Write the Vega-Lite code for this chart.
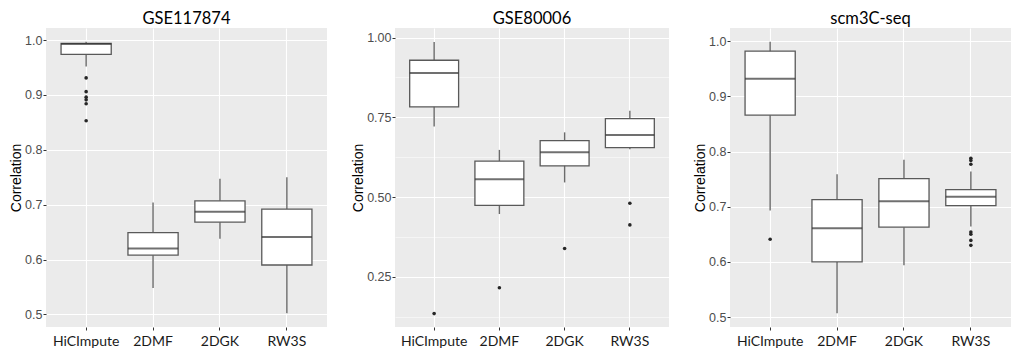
{
  "$schema": "https://vega.github.io/schema/vega-lite/v6.json",
  "background": "white",
  "padding": {"left": 9, "top": 10, "right": 0, "bottom": 0},
  "datasets": {
    "boxes": [
      {"panel": "GSE117874", "method": "HiCImpute", "lower": 0.952, "q1": 0.974, "median": 0.993, "q3": 0.994, "upper": 0.997},
      {"panel": "GSE117874", "method": "2DMF", "lower": 0.548, "q1": 0.608, "median": 0.620, "q3": 0.649, "upper": 0.704},
      {"panel": "GSE117874", "method": "2DGK", "lower": 0.638, "q1": 0.668, "median": 0.687, "q3": 0.707, "upper": 0.747},
      {"panel": "GSE117874", "method": "RW3S", "lower": 0.502, "q1": 0.590, "median": 0.641, "q3": 0.692, "upper": 0.750},
      {"panel": "GSE80006", "method": "HiCImpute", "lower": 0.721, "q1": 0.783, "median": 0.889, "q3": 0.929, "upper": 0.986},
      {"panel": "GSE80006", "method": "2DMF", "lower": 0.447, "q1": 0.474, "median": 0.556, "q3": 0.613, "upper": 0.648},
      {"panel": "GSE80006", "method": "2DGK", "lower": 0.546, "q1": 0.598, "median": 0.641, "q3": 0.677, "upper": 0.703},
      {"panel": "GSE80006", "method": "RW3S", "lower": 0.650, "q1": 0.655, "median": 0.695, "q3": 0.746, "upper": 0.771},
      {"panel": "scm3C-seq", "method": "HiCImpute", "lower": 0.693, "q1": 0.866, "median": 0.932, "q3": 0.982, "upper": 0.999},
      {"panel": "scm3C-seq", "method": "2DMF", "lower": 0.507, "q1": 0.600, "median": 0.661, "q3": 0.713, "upper": 0.759},
      {"panel": "scm3C-seq", "method": "2DGK", "lower": 0.594, "q1": 0.663, "median": 0.710, "q3": 0.751, "upper": 0.785},
      {"panel": "scm3C-seq", "method": "RW3S", "lower": 0.664, "q1": 0.702, "median": 0.718, "q3": 0.731, "upper": 0.764}
    ],
    "outliers": [
      {"panel": "GSE117874", "method": "HiCImpute", "value": 0.931},
      {"panel": "GSE117874", "method": "HiCImpute", "value": 0.906},
      {"panel": "GSE117874", "method": "HiCImpute", "value": 0.896},
      {"panel": "GSE117874", "method": "HiCImpute", "value": 0.891},
      {"panel": "GSE117874", "method": "HiCImpute", "value": 0.884},
      {"panel": "GSE117874", "method": "HiCImpute", "value": 0.853},
      {"panel": "GSE80006", "method": "HiCImpute", "value": 0.135},
      {"panel": "GSE80006", "method": "2DMF", "value": 0.216},
      {"panel": "GSE80006", "method": "2DGK", "value": 0.339},
      {"panel": "GSE80006", "method": "RW3S", "value": 0.481},
      {"panel": "GSE80006", "method": "RW3S", "value": 0.413},
      {"panel": "scm3C-seq", "method": "HiCImpute", "value": 0.641},
      {"panel": "scm3C-seq", "method": "RW3S", "value": 0.788},
      {"panel": "scm3C-seq", "method": "RW3S", "value": 0.784},
      {"panel": "scm3C-seq", "method": "RW3S", "value": 0.777},
      {"panel": "scm3C-seq", "method": "RW3S", "value": 0.654},
      {"panel": "scm3C-seq", "method": "RW3S", "value": 0.650},
      {"panel": "scm3C-seq", "method": "RW3S", "value": 0.639},
      {"panel": "scm3C-seq", "method": "RW3S", "value": 0.630}
    ]
  },
  "hconcat": [
    {
      "width": 281, "height": 299,
      "title": "GSE117874",
      "data": {"name": "boxes"},
      "transform": [{"filter": "datum.panel === 'GSE117874'"}],
      "layer": [
        {"mark": {"type": "rule", "color": "#6b6b6b", "strokeWidth": 1.4},
         "encoding": {
           "x": {"field": "method", "type": "nominal", "sort": ["HiCImpute", "2DMF", "2DGK", "RW3S"], "scale": {"paddingInner": 0.25, "paddingOuter": 0.225}, "axis": {"labelAngle": 0}},
           "y": {"field": "lower", "type": "quantitative", "title": "Correlation",
                 "scale": {"domain": [0.477, 1.022], "nice": false, "zero": false},
                 "axis": {"values": [0.5, 0.55, 0.6, 0.65, 0.7, 0.75, 0.8, 0.85, 0.9, 0.95, 1.0],
                          "labelExpr": "abs(datum.value*10 - round(datum.value*10)) > 0.001 ? '' : format(datum.value, '.1f')",
                          "gridWidth": {"condition": {"test": "abs(datum.value*10 - round(datum.value*10)) > 0.001", "value": 0.5}, "value": 1.1},
                          "tickOpacity": {"condition": {"test": "abs(datum.value*10 - round(datum.value*10)) > 0.001", "value": 0}, "value": 1}}},
           "y2": {"field": "upper"}}},
        {"mark": {"type": "bar", "fill": "white", "stroke": "#595959", "strokeWidth": 1.3},
         "encoding": {
           "x": {"field": "method", "type": "nominal", "sort": ["HiCImpute", "2DMF", "2DGK", "RW3S"]},
           "y": {"field": "q1", "type": "quantitative", "title": "Correlation"},
           "y2": {"field": "q3"}}},
        {"mark": {"type": "tick", "color": "#333333", "thickness": 2, "size": 50.2},
         "encoding": {
           "x": {"field": "method", "type": "nominal", "sort": ["HiCImpute", "2DMF", "2DGK", "RW3S"]},
           "y": {"field": "median", "type": "quantitative", "title": "Correlation"}}},
        {"data": {"name": "outliers"},
         "transform": [{"filter": "datum.panel === 'GSE117874'"}],
         "mark": {"type": "circle", "color": "#262626", "size": 13, "opacity": 1},
         "encoding": {
           "x": {"field": "method", "type": "nominal", "sort": ["HiCImpute", "2DMF", "2DGK", "RW3S"]},
           "y": {"field": "value", "type": "quantitative", "title": "Correlation"}}}
      ]
    },
    {
      "width": 274, "height": 299,
      "title": "GSE80006",
      "data": {"name": "boxes"},
      "transform": [{"filter": "datum.panel === 'GSE80006'"}],
      "layer": [
        {"mark": {"type": "rule", "color": "#6b6b6b", "strokeWidth": 1.4},
         "encoding": {
           "x": {"field": "method", "type": "nominal", "sort": ["HiCImpute", "2DMF", "2DGK", "RW3S"], "scale": {"paddingInner": 0.25, "paddingOuter": 0.225}, "axis": {"labelAngle": 0}},
           "y": {"field": "lower", "type": "quantitative", "title": "Correlation",
                 "scale": {"domain": [0.093, 1.030], "nice": false, "zero": false},
                 "axis": {"values": [0.125, 0.25, 0.375, 0.5, 0.625, 0.75, 0.875, 1.0],
                          "labelExpr": "abs(datum.value*4 - round(datum.value*4)) > 0.001 ? '' : format(datum.value, '.2f')",
                          "gridWidth": {"condition": {"test": "abs(datum.value*4 - round(datum.value*4)) > 0.001", "value": 0.5}, "value": 1.1},
                          "tickOpacity": {"condition": {"test": "abs(datum.value*4 - round(datum.value*4)) > 0.001", "value": 0}, "value": 1}}},
           "y2": {"field": "upper"}}},
        {"mark": {"type": "bar", "fill": "white", "stroke": "#595959", "strokeWidth": 1.3},
         "encoding": {
           "x": {"field": "method", "type": "nominal", "sort": ["HiCImpute", "2DMF", "2DGK", "RW3S"]},
           "y": {"field": "q1", "type": "quantitative", "title": "Correlation"},
           "y2": {"field": "q3"}}},
        {"mark": {"type": "tick", "color": "#333333", "thickness": 2, "size": 48.9},
         "encoding": {
           "x": {"field": "method", "type": "nominal", "sort": ["HiCImpute", "2DMF", "2DGK", "RW3S"]},
           "y": {"field": "median", "type": "quantitative", "title": "Correlation"}}},
        {"data": {"name": "outliers"},
         "transform": [{"filter": "datum.panel === 'GSE80006'"}],
         "mark": {"type": "circle", "color": "#262626", "size": 13, "opacity": 1},
         "encoding": {
           "x": {"field": "method", "type": "nominal", "sort": ["HiCImpute", "2DMF", "2DGK", "RW3S"]},
           "y": {"field": "value", "type": "quantitative", "title": "Correlation"}}}
      ]
    },
    {
      "width": 281, "height": 299,
      "title": "scm3C-seq",
      "data": {"name": "boxes"},
      "transform": [{"filter": "datum.panel === 'scm3C-seq'"}],
      "layer": [
        {"mark": {"type": "rule", "color": "#6b6b6b", "strokeWidth": 1.4},
         "encoding": {
           "x": {"field": "method", "type": "nominal", "sort": ["HiCImpute", "2DMF", "2DGK", "RW3S"], "scale": {"paddingInner": 0.25, "paddingOuter": 0.225}, "axis": {"labelAngle": 0}},
           "y": {"field": "lower", "type": "quantitative", "title": "Correlation",
                 "scale": {"domain": [0.482, 1.024], "nice": false, "zero": false},
                 "axis": {"values": [0.5, 0.55, 0.6, 0.65, 0.7, 0.75, 0.8, 0.85, 0.9, 0.95, 1.0],
                          "labelExpr": "abs(datum.value*10 - round(datum.value*10)) > 0.001 ? '' : format(datum.value, '.1f')",
                          "gridWidth": {"condition": {"test": "abs(datum.value*10 - round(datum.value*10)) > 0.001", "value": 0.5}, "value": 1.1},
                          "tickOpacity": {"condition": {"test": "abs(datum.value*10 - round(datum.value*10)) > 0.001", "value": 0}, "value": 1}}},
           "y2": {"field": "upper"}}},
        {"mark": {"type": "bar", "fill": "white", "stroke": "#595959", "strokeWidth": 1.3},
         "encoding": {
           "x": {"field": "method", "type": "nominal", "sort": ["HiCImpute", "2DMF", "2DGK", "RW3S"]},
           "y": {"field": "q1", "type": "quantitative", "title": "Correlation"},
           "y2": {"field": "q3"}}},
        {"mark": {"type": "tick", "color": "#333333", "thickness": 2, "size": 50.2},
         "encoding": {
           "x": {"field": "method", "type": "nominal", "sort": ["HiCImpute", "2DMF", "2DGK", "RW3S"]},
           "y": {"field": "median", "type": "quantitative", "title": "Correlation"}}},
        {"data": {"name": "outliers"},
         "transform": [{"filter": "datum.panel === 'scm3C-seq'"}],
         "mark": {"type": "circle", "color": "#262626", "size": 13, "opacity": 1},
         "encoding": {
           "x": {"field": "method", "type": "nominal", "sort": ["HiCImpute", "2DMF", "2DGK", "RW3S"]},
           "y": {"field": "value", "type": "quantitative", "title": "Correlation"}}}
      ]
    }
  ],
  "config": {
    "view": {"fill": "#EBEBEB", "stroke": null},
    "concat": {"spacing": 24},
    "axis": {"domain": false, "tickColor": "#333333", "tickSize": 3, "gridColor": "#FFFFFF", "labelColor": "#4D4D4D"},
    "axisX": {"labelFont": "Lato", "labelFontSize": 14, "labelColor": "#1a1a1a", "grid": true, "gridWidth": 1.1, "bandPosition": 0.5, "labelPadding": 4, "title": null},
    "axisY": {"labelFont": "Liberation Sans", "labelFontSize": 12.5, "titleFont": "Liberation Sans", "titleFontSize": 14, "titleColor": "black", "titleFontWeight": "normal", "labelPadding": 1, "titlePadding": 1, "labelOverlap": false, "labelFlush": false},
    "title": {"font": "Lato", "fontSize": 16.5, "fontWeight": "normal", "color": "black", "frame": "group", "anchor": "middle", "offset": 1}
  }
}
